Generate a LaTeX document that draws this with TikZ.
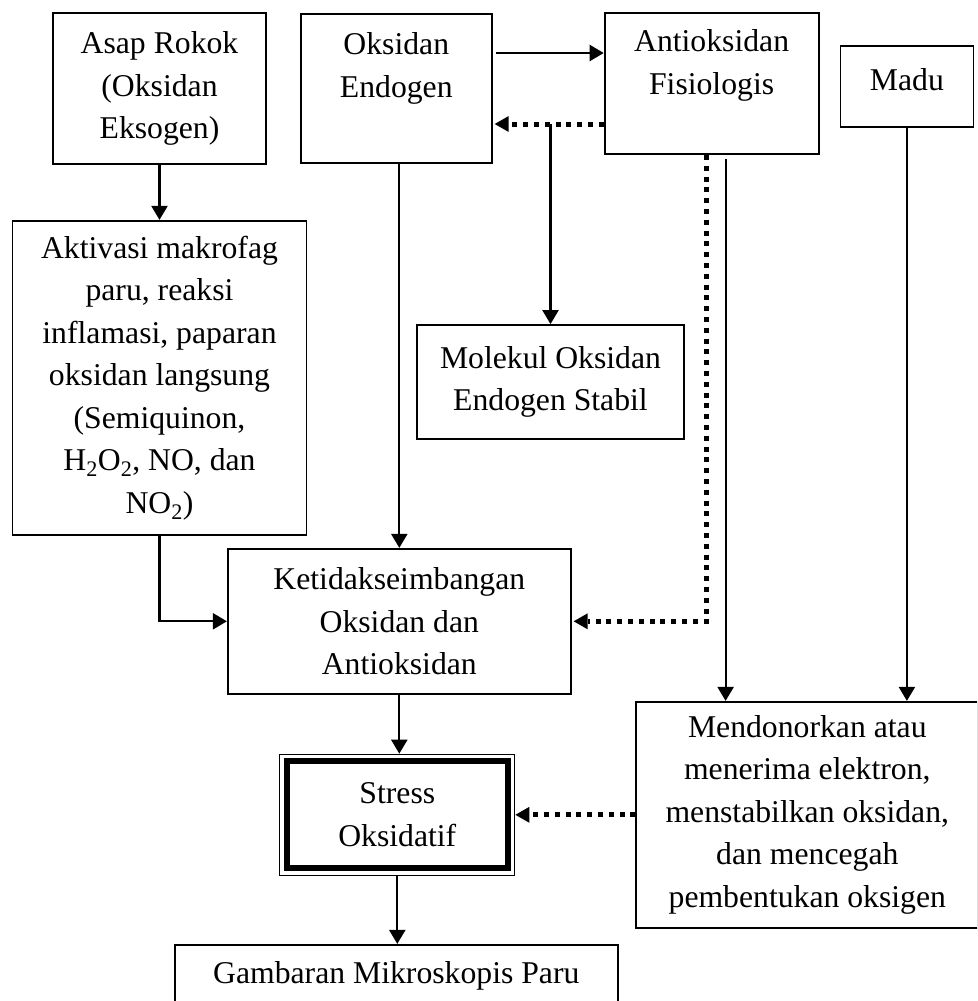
\documentclass[tikz,border=0pt]{standalone}
\usepackage{fontspec}
\setmainfont{Liberation Serif}
\usetikzlibrary{arrows.meta, positioning}

\begin{document}
\begin{tikzpicture}[
    x=1pt, y=1pt,
    font=\fontsize{31.7pt}{42.5pt}\selectfont,
    box/.style={rectangle, draw, line width=1.8pt, align=center, inner sep=0pt},
    txt/.style={align=center, inner sep=0pt},
    arrow/.style={-{Triangle[length=14pt, width=16pt]}, line width=2.2pt},
    dotarrow/.style={-{Triangle[length=14pt, width=16pt, line width=0pt]}, line width=5pt, dash pattern=on 5pt off 5.8pt}
]
    \useasboundingbox (0,0) rectangle (977,-1001);
    \clip (0,0) rectangle (977,-1001);

    % Top row
    \node[box, minimum width=213pt, minimum height=151pt] (asap) at (159.5,-88.5) {Asap Rokok\\(Oksidan\\Eksogen)};
    \node[box, minimum width=191pt, minimum height=149pt, right=33pt of asap] (oks) {};
    \node[txt, yshift=20pt] (oksTxt) at (oks.center) {Oksidan\\Endogen};
    \node[box, minimum width=214pt, minimum height=141pt, right=111pt of oks, yshift=5pt] (antiox) {};
    \node[txt, yshift=18pt] (antioxTxt) at (antiox.center) {Antioksidan\\Fisiologis};
    \node[box, minimum width=133pt, minimum height=81pt, right=20pt of antiox, yshift=-3pt] (madu) {};
    \node[txt, yshift=6.5pt] (maduTxt) at (madu.center) {Madu};

    % Middle
    \node[box, minimum width=294pt, minimum height=314pt, below=55pt of asap] (aktivasi) {Aktivasi makrofag\\paru, reaksi\\inflamasi, paparan\\oksidan langsung\\(Semiquinon,\\H\textsubscript{2}O\textsubscript{2}, NO, dan\\NO\textsubscript{2})};
    \node[box, minimum width=267pt, minimum height=114pt] (molekul) at (550.5,-382) {Molekul Oksidan\\Endogen Stabil};
    \node[box, minimum width=343pt, minimum height=145pt, below=384pt of oks, xshift=3pt] (ketidak) {Ketidakseimbangan\\Oksidan dan\\Antioksidan};

    % Bottom
    \node[box, line width=1.2pt, minimum width=235pt, minimum height=121pt, below=59pt of ketidak, xshift=-2pt] (stress) {Stress\\Oksidatif};
    \draw[line width=6pt] ([shift={(8pt,8pt)}]stress.south west) rectangle ([shift={(-7.5pt,-7pt)}]stress.north east);
    \node[box, minimum width=342pt, minimum height=226pt, right=120pt of stress] (mendo) {Mendonorkan atau\\menerima elektron,\\menstabilkan oksidan,\\dan mencegah\\pembentukan oksigen};
    \node[box, minimum width=443pt, minimum height=62pt, below=68pt of stress, xshift=-1pt] (gambar) {Gambaran Mikroskopis Paru};

    % Arrows
    \coordinate (a1) at ([xshift=3pt, yshift=35.5pt]oks.east);
    \coordinate (d1) at ([yshift=-35.5pt]oks.east);
    \coordinate (s1) at ([xshift=14pt, yshift=-4pt]antiox.south);
    \coordinate (d2) at ([xshift=-5pt]antiox.south);
    \draw[arrow] (asap.south) -- (asap.south |- aktivasi.north);
    \draw[arrow] (a1) -- (a1 -| antiox.west);
    \draw[dotarrow, shorten >=2pt] (d1 -| antiox.west) -- (d1);
    \draw[arrow] (d1 -| molekul.north) -- (molekul.north);
    \draw[arrow] (oks.south -| ketidak.north) -- (ketidak.north);
    \draw[arrow] (aktivasi.south) |- (ketidak.west);
    \draw[dotarrow, shorten >=2pt] (d2) |- (ketidak.east);
    \draw[arrow] (s1) -- (s1 |- mendo.north);
    \draw[arrow] (madu.south) -- (madu.south |- mendo.north);
    \draw[arrow] (ketidak.south) -- (ketidak.south |- stress.north);
    \draw[dotarrow] (mendo.west) -- (mendo.west -| stress.east);
    \draw[arrow] (stress.south) -- (stress.south |- gambar.north);
\end{tikzpicture}
\end{document}
